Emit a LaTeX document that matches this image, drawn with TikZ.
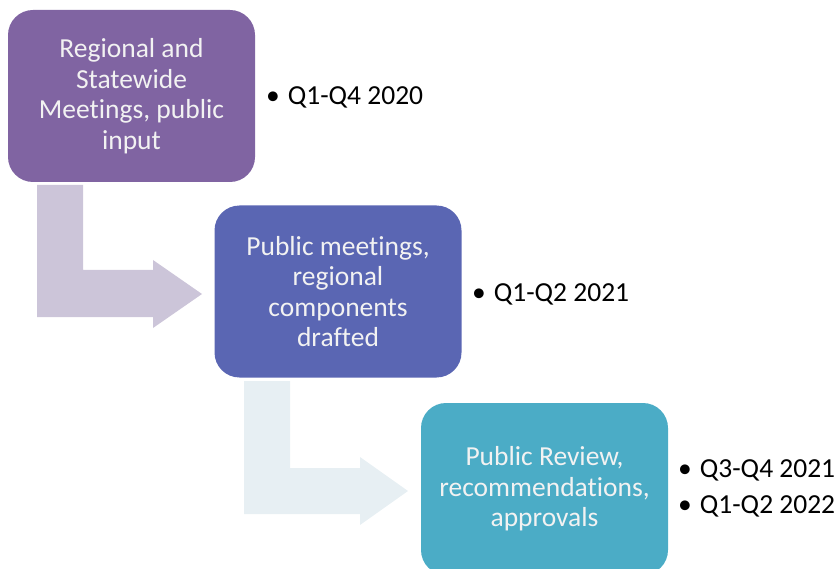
\documentclass[tikz,border=0pt]{standalone}
\usepackage{fontspec}
\setmainfont{Carlito}[Ligatures=NoCommon]
\usetikzlibrary{positioning}

\definecolor{stepone}{HTML}{8064A2}
\definecolor{steptwo}{HTML}{5A66B3}
\definecolor{stepthree}{HTML}{4BACC6}
\definecolor{arrowone}{HTML}{CCC5D9}
\definecolor{arrowtwo}{HTML}{E7EFF3}

\begin{document}
\begin{tikzpicture}[x=1pt,y=-1pt]

  \tikzstyle{phase}=[rounded corners=25pt,minimum width=247pt,minimum height=172pt,
    text=white!95!black,align=center,font=\fontsize{27.5}{30.5}\selectfont,inner sep=0pt]
  \tikzstyle{when}=[anchor=west,align=left,font=\fontsize{27.5}{36}\selectfont,inner sep=0pt]

  \useasboundingbox (0,0) rectangle (835,569);

  % bent arrows
  \fill[arrowone] (37,185) -- (83,185) -- (83,270) -- (153,270) -- (153,260) -- (202,294)
     -- (153,328) -- (153,317) -- (37,317) -- cycle;
  \fill[arrowtwo] (244,381) -- (290,381) -- (290,468) -- (360,468) -- (360,457) -- (408,491)
     -- (360,525) -- (360,514) -- (244,514) -- cycle;

  \node[phase,fill=stepone] (meetings) at (131.5,96) {Regional and\\Statewide\\Meetings, public\\input};
  \node[phase,fill=steptwo] (drafted) at (338,291.5) {Public meetings,\\regional\\components\\drafted};
  \node[phase,fill=stepthree] (review) at (544.5,489) {Public Review,\\recommendations,\\approvals};

  \node[when] (q2020) at (266,97) {\textbullet\hspace{8pt}Q1-Q4 2020};
  \node[when] (q2021) at (472,294) {\textbullet\hspace{8pt}Q1-Q2 2021};
  \node[when] (q2022) at (678,488) {\textbullet\hspace{8pt}Q3-Q4 2021\\\textbullet\hspace{8pt}Q1-Q2 2022};

\end{tikzpicture}
\end{document}
